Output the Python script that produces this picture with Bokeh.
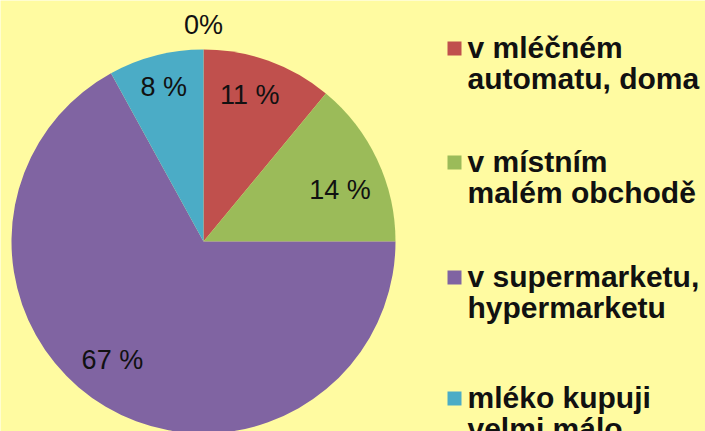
import math
from bokeh.plotting import figure
from bokeh.models import Range1d, ColumnDataSource
from bokeh.core.properties import value
from bokeh.embed import file_html
from bokeh.resources import INLINE

# ---- data ----
values = [11, 14, 67, 8, 0]
slice_labels = ["11 %", "14 %", "67 %", "8 %", "0%"]
colors = ["#C0504D", "#9BBB59", "#8064A2", "#4BACC6", "#F79646"]
legend_names = ["v mléčném\nautomatu, doma", "v místním\nmalém obchodě",
                "v supermarketu,\nhypermarketu", "mléko kupuji\nvelmi málo"]

BG = "#FFFBA1"
W, H = 705, 431
# data units = screen pixels (y negated)
p = figure(width=W, height=H, output_backend="svg", toolbar_location=None,
           x_range=Range1d(0, W), y_range=Range1d(-H, 0),
           min_border=0)
p.axis.visible = False
p.grid.visible = False
p.outline_line_color = None
p.background_fill_color = BG
p.border_fill_color = BG

cx, cy, R = 203, -241, 192
total = sum(values)
starts, ends, wcols = [], [], []
all_mids = []
cum = 0
for v, c in zip(values, colors):
    a0 = math.pi / 2 - 2 * math.pi * cum / total
    cum += v
    a1 = math.pi / 2 - 2 * math.pi * cum / total
    all_mids.append((a0 + a1) / 2)
    if v > 0:
        starts.append(a0); ends.append(a1); wcols.append(c)

src = ColumnDataSource(dict(start=starts, end=ends, color=wcols))
p.wedge(x=cx, y=cy, radius=R, start_angle="start", end_angle="end",
        direction="clock", fill_color="color", line_color=None, source=src)

# label placement: radial factor and angular nudge (radians) per slice
label_r = [0.8, 0.76, 0.78, 0.83, 1.13]
label_da = [0.04, -0.08, -0.12, 0.0, 0.0]
lx, ly = [], []
for m, f, da in zip(all_mids, label_r, label_da):
    lx.append(cx + f * R * math.cos(m + da))
    ly.append(cy + f * R * math.sin(m + da))
p.text(x=lx, y=ly, text=slice_labels, text_align="center", text_baseline="middle",
       text_font=value("Liberation Sans"), text_font_size="27px", text_color="#111111")

# legend
item_y = [47, 161, 276, 397]
line_gap = 31
tx, ty, tt = [], [], []
for name, y0 in zip(legend_names, item_y):
    for k, line in enumerate(name.split("\n")):
        tx.append(467); ty.append(-(y0 + k * line_gap)); tt.append(line)
p.text(x=tx, y=ty, text=tt, text_align="left", text_baseline="middle",
       text_font=value("Liberation Sans"), text_font_style="bold",
       text_font_size="30px", text_color="#111111")
p.scatter(x=[454] * 4, y=[-(y + 1) for y in item_y], marker="square", size=14,
          fill_color=colors[:4], line_color=None)

open("out.html", "w").write(file_html(p, INLINE))
